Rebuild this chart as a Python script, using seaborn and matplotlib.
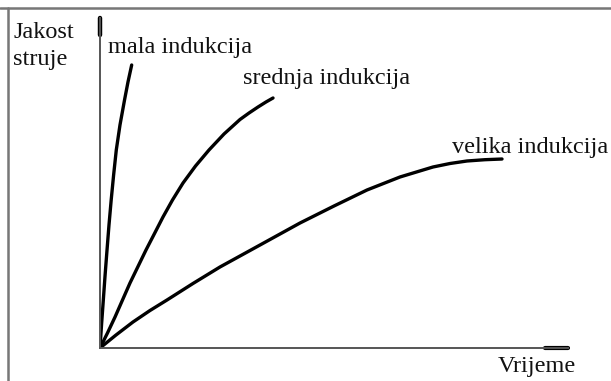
import matplotlib
matplotlib.use("Agg")
import matplotlib.pyplot as plt
import seaborn as sns
import pandas as pd
from matplotlib.lines import Line2D

# --- data (arbitrary units) ---
mala_t = [0.0, 0.034, 0.071, 0.109, 0.150, 0.192, 0.239, 0.291, 0.348,
          0.427, 0.524, 0.598, 0.677]
mala_i = [0.0, 0.727, 1.455, 2.212, 2.970, 3.727, 4.485, 5.242, 6.000,
          6.758, 7.515, 8.061, 8.576]

srednja_t = [0.0, 0.160, 0.321, 0.481, 0.641, 0.812, 0.983, 1.165, 1.346,
             1.549, 1.774, 2.041, 2.329, 2.650, 2.991, 3.184, 3.376, 3.547, 3.697]
srednja_i = [0.0, 0.455, 0.939, 1.455, 1.970, 2.470, 2.970, 3.470, 3.970,
             4.485, 5.000, 5.515, 6.000, 6.485, 6.924, 7.121, 7.303, 7.455, 7.576]

velika_t = [0.0, 0.342, 0.705, 1.068, 1.432, 1.987, 2.564, 3.419, 4.274,
            5.000, 5.705, 6.410, 7.115, 7.479, 7.842, 8.226, 8.590]
velika_i = [0.0, 0.394, 0.788, 1.136, 1.455, 1.955, 2.455, 3.121, 3.788,
            4.303, 4.788, 5.182, 5.485, 5.591, 5.667, 5.706, 5.727]

labels = ["mala indukcija", "srednja indukcija", "velika indukcija"]
x_label = "Vrijeme"
y_label = ["Jakost", "struje"]

sns.set_theme(style="white")
plt.rcParams["font.family"] = ["Liberation Serif", "DejaVu Serif"]

W, H = 611, 381
fig = plt.figure(figsize=(W / 100, H / 100), dpi=100)
fig.patch.set_facecolor("white")

# axes: origin at px (100,348), top y=18, right x=568
x0, y0, x1, y1 = 100, 348, 568, 18
ax = fig.add_axes([x0 / W, (H - y0) / H, (x1 - x0) / W, (y0 - y1) / H])
ax.set_xlim(0, 10)
ax.set_ylim(0, 10)
ax.set_facecolor("none")

for t, i in [(mala_t, mala_i), (srednja_t, srednja_i), (velika_t, velika_i)]:
    df = pd.DataFrame({"t": t, "i": i})
    sns.lineplot(data=df, x="t", y="i", ax=ax, color="black", lw=2.4,
                 sort=False, estimator=None, solid_capstyle="round",
                 solid_joinstyle="round")

ax.set_xticks([])
ax.set_yticks([])
ax.set_xlabel("")
ax.set_ylabel("")
for s in ["top", "right"]:
    ax.spines[s].set_visible(False)
for s in ["left", "bottom"]:
    ax.spines[s].set_color("#555555")
    ax.spines[s].set_linewidth(1.4)

# arrow-like thick tips of the axes
ax.plot([0, 0], [0.95, 1.0], transform=ax.transAxes, color="black", lw=3.2, clip_on=False)
ax.plot([0.95, 1.0], [0, 0], transform=ax.transAxes, color="black", lw=3.0, clip_on=False)

def px(x, y):
    return x / W, (H - y) / H

fs = 17.5
tc = "#111111"
fig.text(*px(13, 38), y_label[0], fontsize=fs, va="baseline", ha="left", color=tc)
fig.text(*px(13, 65), y_label[1], fontsize=fs, va="baseline", ha="left", color=tc)
fig.text(*px(108, 53), labels[0], fontsize=fs, va="baseline", ha="left", color=tc)
fig.text(*px(243, 84), labels[1], fontsize=fs, va="baseline", ha="left", color=tc)
fig.text(*px(452, 153), labels[2], fontsize=fs, va="baseline", ha="left", color=tc)
fig.text(*px(498, 372), x_label, fontsize=fs, va="baseline", ha="left", color=tc)

# image frame (top and left edges)
fig.add_artist(Line2D([0, 1], [1 - 7.5 / H, 1 - 7.5 / H], color="#777777", lw=1.8))
fig.add_artist(Line2D([8 / W, 8 / W], [0, 1 - 7.5 / H], color="#777777", lw=1.8))

fig.savefig("out.png", dpi=100, facecolor="white")
